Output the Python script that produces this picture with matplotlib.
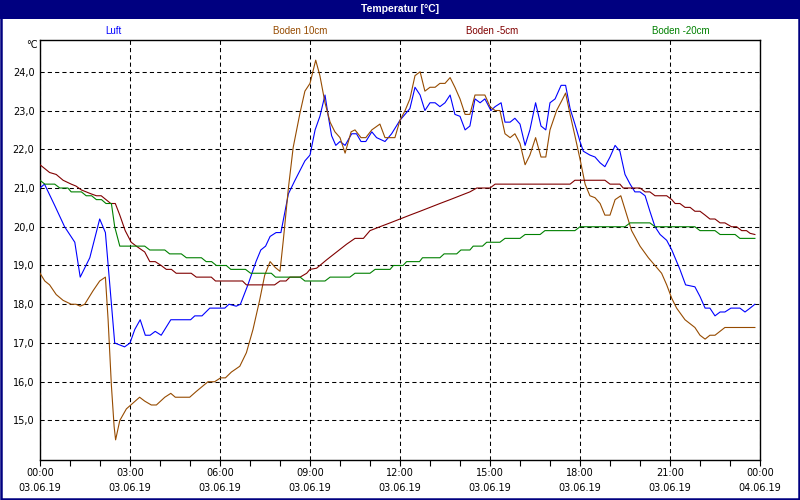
import numpy as np
import matplotlib
matplotlib.use('Agg')
import matplotlib.pyplot as plt
from matplotlib.patches import Rectangle

plt.rcParams['font.family'] = ['DejaVu Sans']

# ---------------- data (hours since 03.06.19 00:00, degC) ----------------
luft_h = [0.0, 0.15, 0.49, 0.82, 1.16, 1.34, 1.66, 1.99, 2.18, 2.49, 2.82, 3.0, 3.16, 3.34, 3.51, 3.67,
          3.84, 4.04, 4.36, 5.02, 5.16, 5.4, 5.66, 6.16, 6.3, 6.54, 6.68, 6.93, 7.2, 7.36, 7.52, 7.67,
          7.87, 8.03, 8.28, 8.5, 8.83, 9.0, 9.17, 9.33, 9.5, 9.61, 9.72, 9.86, 10.0, 10.17, 10.39, 10.55,
          10.7, 10.86, 11.06, 11.22, 11.5, 11.72, 12.0, 12.33, 12.5, 12.67, 12.83, 13.0, 13.17, 13.33,
          13.5, 13.67, 13.83, 14.0, 14.17, 14.33, 14.5, 14.67, 14.83, 15.03, 15.17, 15.37, 15.5, 15.67,
          15.83, 16.0, 16.17, 16.33, 16.52, 16.7, 16.86, 17.0, 17.17, 17.37, 17.52, 17.67, 17.83, 18.0,
          18.11, 18.33, 18.5, 18.67, 18.83, 19.0, 19.17, 19.33, 19.5, 19.67, 19.83, 20.0, 20.17, 20.33,
          20.5, 20.67, 20.89, 21.06, 21.33, 21.52, 21.83, 22.0, 22.17, 22.33, 22.5, 22.67, 22.83, 23.03,
          23.33, 23.5, 23.67, 23.83]
luft_t = [21.0, 21.1, 20.55, 20.0, 19.6, 18.7, 19.2, 20.2, 19.85, 17.0, 16.9, 17.0, 17.35, 17.6, 17.2, 17.2,
          17.3, 17.2, 17.6, 17.6, 17.7, 17.7, 17.9, 17.9, 18.0, 17.95, 18.0, 18.5, 19.1, 19.4, 19.5, 19.75,
          19.85, 19.85, 20.85, 21.2, 21.7, 21.85, 22.5, 22.85, 23.4, 22.85, 22.35, 22.1, 22.2, 22.1, 22.4, 22.4,
          22.2, 22.2, 22.45, 22.3, 22.2, 22.4, 22.75, 23.05, 23.6, 23.4, 23.0, 23.2, 23.2, 23.1,
          23.2, 23.4, 22.9, 22.85, 22.5, 22.6, 23.3, 23.2, 23.3, 23.0, 23.1, 23.2, 22.7, 22.7,
          22.8, 22.65, 22.1, 22.5, 23.2, 22.6, 22.5, 23.2, 23.3, 23.65, 23.65, 23.05, 22.65, 22.2,
          21.95, 21.85, 21.8, 21.65, 21.55, 21.8, 22.1, 21.95, 21.35, 21.1, 20.9, 20.9, 20.8, 20.4,
          20.0, 19.8, 19.65, 19.4, 18.9, 18.5, 18.45, 18.2, 17.9, 17.9, 17.7, 17.8, 17.8, 17.9,
          17.9, 17.8, 17.9, 18.0]

b10_h = [0.0, 0.16, 0.32, 0.54, 0.77, 1.04, 1.2, 1.34, 1.49, 1.77, 1.99, 2.18, 2.27, 2.38, 2.47, 2.52,
         2.66, 2.88, 3.1, 3.32, 3.49, 3.71, 3.88, 4.16, 4.36, 4.51, 4.99, 5.21, 5.6, 5.82, 6.02, 6.18,
         6.38, 6.66, 6.88, 7.1, 7.32, 7.49, 7.67, 7.84, 8.0, 8.11, 8.28, 8.44, 8.67, 8.83, 9.0, 9.19,
         9.33, 9.5, 9.67, 9.83, 10.0, 10.17, 10.37, 10.5, 10.7, 10.86, 11.06, 11.33, 11.5, 11.83, 12.0,
         12.17, 12.33, 12.5, 12.67, 12.83, 13.0, 13.17, 13.33, 13.5, 13.67, 13.83, 14.0, 14.17, 14.33,
         14.5, 14.83, 15.0, 15.17, 15.33, 15.5, 15.67, 15.83, 16.0, 16.17, 16.33, 16.52, 16.7, 16.86,
         17.0, 17.22, 17.39, 17.52, 17.67, 17.83, 18.0, 18.17, 18.33, 18.5, 18.67, 18.83, 19.0, 19.17,
         19.36, 19.5, 19.72, 20.0, 20.28, 20.5, 20.72, 20.89, 21.06, 21.22, 21.5, 21.83, 22.0, 22.17,
         22.33, 22.5, 22.83, 23.83]
b10_t = [18.8, 18.6, 18.5, 18.25, 18.1, 18.0, 18.0, 17.95, 18.0, 18.35, 18.6, 18.7, 17.6, 15.9, 14.85, 14.5,
         15.0, 15.3, 15.45, 15.6, 15.5, 15.4, 15.4, 15.6, 15.7, 15.6, 15.6, 15.75, 16.0, 16.0, 16.1, 16.1,
         16.25, 16.4, 16.75, 17.35, 18.1, 18.75, 19.1, 18.95, 18.85, 19.65, 21.0, 22.05, 22.95, 23.5, 23.7, 24.3,
         23.9, 23.2, 22.7, 22.45, 22.3, 21.9, 22.45, 22.5, 22.3, 22.3, 22.5, 22.65, 22.3, 22.3, 22.75,
         23.0, 23.3, 23.9, 24.0, 23.5, 23.6, 23.6, 23.7, 23.7, 23.85, 23.6, 23.3, 22.9, 22.9,
         23.4, 23.4, 23.1, 23.0, 23.0, 22.4, 22.3, 22.4, 22.15, 21.6, 21.85, 22.3, 21.8, 21.8,
         22.5, 23.0, 23.25, 23.45, 22.9, 22.35, 21.75, 21.1, 20.8, 20.75, 20.6, 20.3, 20.3, 20.7,
         20.8, 20.45, 19.9, 19.5, 19.2, 19.0, 18.8, 18.5, 18.15, 17.9, 17.6, 17.4, 17.2, 17.1,
         17.2, 17.2, 17.4, 17.4]

b5_h = [0.0, 0.16, 0.32, 0.54, 0.77, 1.04, 1.2, 1.38, 1.54, 1.7, 1.88, 2.04, 2.2, 2.36, 2.51, 2.66,
        2.84, 3.04, 3.21, 3.49, 3.66, 3.84, 4.04, 4.21, 4.38, 4.54, 5.04, 5.21, 5.71, 5.85, 6.75, 6.88,
        7.82, 8.0, 8.2, 8.33, 8.67, 8.89, 9.0, 9.22, 9.56, 9.89, 10.22, 10.5, 10.78, 11.0, 11.33, 11.67,
        12.0, 12.33, 12.67, 13.0, 13.33, 13.67, 14.0, 14.33, 14.56, 15.0, 15.17, 17.67, 17.83, 18.83,
        19.0, 19.33, 19.44, 20.0, 20.17, 20.33, 20.5, 20.89, 21.06, 21.17, 21.33, 21.5, 21.67, 21.83,
        22.0, 22.17, 22.33, 22.5, 22.67, 22.83, 23.05, 23.22, 23.39, 23.55, 23.67, 23.83]
b5_t = [21.6, 21.5, 21.4, 21.35, 21.2, 21.1, 21.05, 20.95, 20.9, 20.85, 20.8, 20.8, 20.7, 20.6, 20.6, 20.3,
        19.9, 19.6, 19.5, 19.35, 19.1, 19.1, 19.0, 18.9, 18.9, 18.8, 18.8, 18.7, 18.7, 18.6, 18.6, 18.5,
        18.5, 18.6, 18.6, 18.7, 18.7, 18.8, 18.9, 18.93, 19.15, 19.35, 19.55, 19.7, 19.7, 19.9, 20.0, 20.1,
        20.2, 20.3, 20.4, 20.5, 20.6, 20.7, 20.8, 20.9, 21.0, 21.0, 21.1, 21.1, 21.2, 21.2,
        21.1, 21.1, 21.0, 21.0, 20.9, 20.9, 20.8, 20.8, 20.7, 20.6, 20.6, 20.5, 20.5, 20.4,
        20.4, 20.3, 20.2, 20.2, 20.1, 20.1, 20.0, 20.0, 19.9, 19.9, 19.83, 19.8]

b20_h = [0.0, 0.16, 0.49, 0.66, 0.93, 1.04, 1.38, 1.54, 1.72, 1.88, 2.05, 2.2, 2.38, 2.49, 2.66, 3.49,
         3.66, 4.16, 4.32, 4.71, 4.88, 5.38, 5.54, 5.72, 5.88, 6.21, 6.36, 6.85, 7.02, 7.71, 7.85, 8.67,
         8.83, 9.5, 9.67, 10.33, 10.5, 11.0, 11.17, 11.67, 11.78, 12.1, 12.22, 12.65, 12.75, 13.33,
         13.47, 13.89, 14.03, 14.33, 14.44, 14.75, 14.89, 15.33, 15.5, 16.0, 16.17, 16.67, 16.83, 17.83,
         18.0, 19.5, 19.67, 20.33, 20.5, 21.83, 22.0, 22.5, 22.67, 23.17, 23.33, 23.83]
b20_t = [21.2, 21.1, 21.1, 21.0, 21.0, 20.9, 20.9, 20.8, 20.8, 20.7, 20.7, 20.6, 20.6, 20.0, 19.5, 19.5,
         19.4, 19.4, 19.3, 19.3, 19.2, 19.2, 19.1, 19.1, 19.0, 19.0, 18.9, 18.9, 18.8, 18.8, 18.7, 18.7,
         18.6, 18.6, 18.7, 18.7, 18.8, 18.8, 18.9, 18.9, 19.0, 19.0, 19.1, 19.1, 19.2, 19.2,
         19.3, 19.3, 19.4, 19.4, 19.5, 19.5, 19.6, 19.6, 19.7, 19.7, 19.8, 19.8, 19.9, 19.9,
         20.0, 20.0, 20.1, 20.1, 20.0, 20.0, 19.9, 19.9, 19.8, 19.8, 19.7, 19.7]

series_names = ['Luft', 'Boden 10cm', 'Boden -5cm', 'Boden -20cm']
series_colors = ['#0000ff', '#964b00', '#800000', '#008000']
tick_hours = [0, 3, 6, 9, 12, 15, 18, 21, 24]
tick_times = ['00:00', '03:00', '06:00', '09:00', '12:00', '15:00', '18:00', '21:00', '00:00']
tick_dates = ['03.06.19'] * 8 + ['04.06.19']
y_ticks = [15, 16, 17, 18, 19, 20, 21, 22, 23, 24]

# ---------------- figure ----------------
fig = plt.figure(figsize=(8, 5), dpi=100, facecolor='white')
ax = fig.add_axes([40 / 800, 1 - 460 / 500, 720 / 800, 420 / 500])

for h, t, c in zip([luft_h, b10_h, b5_h, b20_h], [luft_t, b10_t, b5_t, b20_t], series_colors):
    ax.plot(h, t, color=c, lw=0.8, zorder=3)

ax.set_xlim(0, 24)
ax.set_ylim(13.98, 24.82)
ax.set_xticks(tick_hours)
ax.set_xticklabels([t + '\n' + d for t, d in zip(tick_times, tick_dates)], linespacing=1.6)
ax.set_xticks(np.arange(0, 25, 1), minor=True)
ax.set_yticks(y_ticks)
ax.set_yticklabels([('%.1f' % v).replace('.', ',') for v in y_ticks])
ax.tick_params(axis='x', which='both', direction='out', length=4, width=0.8, pad=2,
               labelsize=7, colors='black')
ax.tick_params(axis='y', length=0, pad=4, labelsize=7)

ax.grid(True, which='major', color='black', lw=0.75, linestyle=(0, (4, 3)))
ax.set_axisbelow(True)
for s in ax.spines.values():
    s.set_color('black')
    s.set_linewidth(1.0)

# title bar, legend text, unit label, frame
fig.patches.append(Rectangle((0, 1 - 19 / 500), 1, 19 / 500, transform=fig.transFigure,
                             facecolor='#000080', edgecolor='none', zorder=0))
fig.text(0.5, 1 - 9.5 / 500, 'Temperatur [°C]', color='white', fontsize=7.5, fontweight='bold',
         family='Liberation Sans', ha='center', va='center')
for name, c, xp in zip(series_names, series_colors, [113, 300, 492, 681]):
    fig.text(xp / 800, 1 - 31 / 500, name, color=c, fontsize=7, family='Liberation Sans',
             ha='center', va='center')
fig.text(38 / 800, 1 - 45 / 500, '°C', fontsize=7, ha='right', va='center')
fig.patches.append(Rectangle((0.0012, 0.002), 0.9976, 0.996, transform=fig.transFigure,
                             facecolor='none', edgecolor='#000080', lw=1.8, zorder=5))

fig.savefig('out.png', dpi=100, facecolor='white')
